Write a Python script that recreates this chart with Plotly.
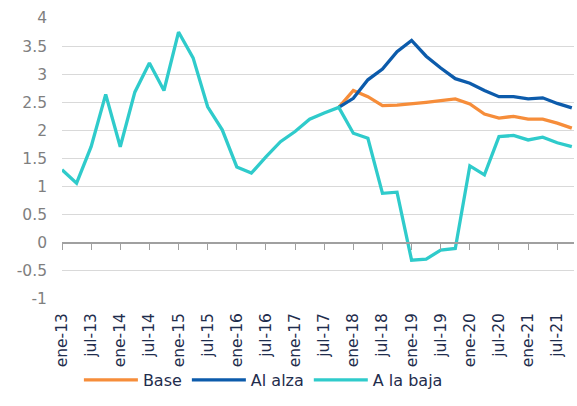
import plotly.graph_objects as go

trimestres = ["ene-13", "abr-13", "jul-13", "oct-13", "ene-14", "abr-14", "jul-14", "oct-14",
              "ene-15", "abr-15", "jul-15", "oct-15", "ene-16", "abr-16", "jul-16", "oct-16",
              "ene-17", "abr-17", "jul-17", "oct-17", "ene-18", "abr-18", "jul-18", "oct-18",
              "ene-19", "abr-19", "jul-19", "oct-19", "ene-20", "abr-20", "jul-20", "oct-20",
              "ene-21", "abr-21", "jul-21", "oct-21"]

historia = [1.30, 1.06, 1.71, 2.64, 1.71, 2.68, 3.20, 2.71, 3.75, 3.29,
            2.42, 2.01, 1.35, 1.24, 1.53, 1.80, 1.98, 2.20, 2.31, 2.41]

base = [2.71, 2.60, 2.44, 2.45, 2.47, 2.50, 2.53, 2.56,
        2.47, 2.29, 2.22, 2.25, 2.20, 2.20, 2.13, 2.04]
al_alza = [2.57, 2.90, 3.09, 3.40, 3.60, 3.32, 3.11, 2.92,
           2.84, 2.71, 2.60, 2.60, 2.56, 2.58, 2.48, 2.40]
a_la_baja = [1.95, 1.86, 0.88, 0.90, -0.31, -0.29, -0.13, -0.10,
             1.37, 1.21, 1.89, 1.91, 1.83, 1.88, 1.78, 1.71]

etiquetas = trimestres[::2]
y_ticks = [-1, -0.5, 0, 0.5, 1, 1.5, 2, 2.5, 3, 3.5, 4]
y_text = ["-1", "-0.5", "0", "0.5", "1", "1.5", "2", "2.5", "3", "3.5", "4"]

n_hist = len(historia)
serie_base = [None] * (n_hist - 1) + [historia[-1]] + base
serie_alza = [None] * (n_hist - 1) + [historia[-1]] + al_alza
serie_baja = historia + a_la_baja

colores = {"Base": "#F68D3A", "Al alza": "#0C5BAB", "A la baja": "#2FCBCB"}

fig = go.Figure()
for nombre, serie, eje in [("Base", serie_base, "x"), ("Al alza", serie_alza, "x"),
                           ("A la baja", serie_baja, "x2")]:
    fig.add_trace(go.Scatter(x=trimestres, y=serie, name=nombre, mode="lines",
                             xaxis=eje, yaxis="y",
                             line=dict(color=colores[nombre], width=3.3),
                             connectgaps=False))

rango_x = [0, 35.15]

fig.update_layout(
    width=577, height=406,
    margin=dict(l=62, r=3, t=18, b=107, autoexpand=False),
    paper_bgcolor="white", plot_bgcolor="white",
    font=dict(family="DejaVu Sans", size=15, color="#7F7F7F"),
    # eje de marcas sobre la línea del cero
    xaxis=dict(type="category", categoryorder="array", categoryarray=trimestres,
               anchor="free", position=0.2,
               range=rango_x, tickvals=etiquetas,
               showticklabels=False, ticks="outside", ticklen=6, tickwidth=1,
               tickcolor="#A0A0A0", showline=True, linecolor="#A0A0A0", linewidth=1.5,
               showgrid=False, zeroline=False, automargin=False),
    # eje de etiquetas en la parte inferior
    xaxis2=dict(type="category", categoryorder="array", categoryarray=trimestres,
                overlaying="x", anchor="y", side="bottom",
                range=rango_x, tickvals=etiquetas, ticktext=etiquetas,
                tickangle=-90, ticks="", showgrid=False, showline=False, zeroline=False,
                tickfont=dict(family="DejaVu Sans", size=15.5, color="#1F2D4D"),
                ticklabelstandoff=10, automargin=False),
    yaxis=dict(range=[-1, 4], showgrid=True, gridcolor="#D9D9D9", gridwidth=1,
               zeroline=True, zerolinecolor="#A0A0A0", zerolinewidth=1.5,
               showline=False, ticks="",
               tickvals=y_ticks, ticktext=y_text,
               tickfont=dict(family="DejaVu Sans", size=15.5, color="#7F7F7F"),
               ticklabelstandoff=14, automargin=False),
    legend=dict(orientation="h", x=0.033, xanchor="left", y=-0.288, yanchor="middle",
                font=dict(family="DejaVu Sans", size=16, color="#1F2D4D"),
                itemwidth=54, bgcolor="rgba(0,0,0,0)"),
    showlegend=True,
)

fig.write_html("out.html", config={"displayModeBar": False},
               post_script="document.body.style.margin='0';document.body.style.overflow='hidden';")
